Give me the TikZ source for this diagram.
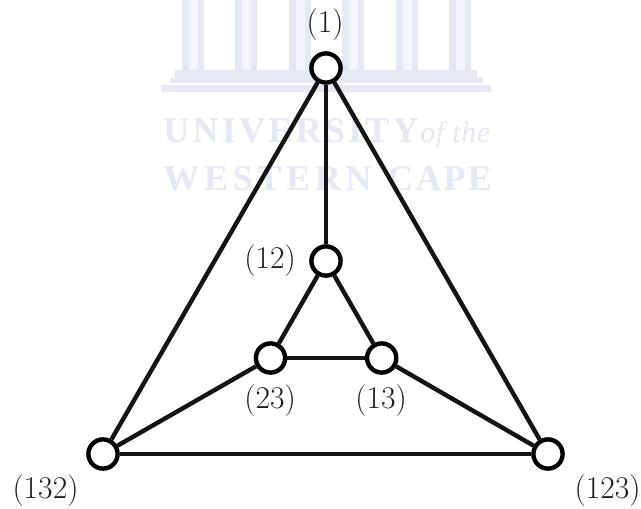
\documentclass[tikz,border=0pt]{standalone}
\usepackage{fontspec}
\newfontfamily\wmfont{Liberation Serif}
\definecolor{wm}{RGB}{230,232,243}
\tikzset{
  vert/.style={circle,draw=black,fill=white,line width=2.2pt,minimum size=14.6pt,inner sep=0pt},
  edge/.style={line width=2.2pt,draw=black!92},
  lab/.style={font=\fontsize{15.8}{18}\selectfont,inner sep=0pt,text=black!88},
  wmtext/.style={font=\wmfont\bfseries\fontsize{18}{20}\selectfont,text=wm,inner sep=0pt,anchor=base west},
}
\begin{document}
\begin{tikzpicture}[x=0.5pt,y=-0.5pt]
\useasboundingbox (0,0) rectangle (641,508);
\fill[white] (0,0) rectangle (641,508);
% watermark
\foreach \g in {182,235,289,342,396,449}{
  \fill[wm] (\g,0) rectangle ++(7,70);
  \fill[wm!45] (\g+7,0) rectangle ++(9,70);
  \fill[wm] (\g+16,0) rectangle ++(6,70);
}
\fill[wm] (175,70) rectangle (477,78);
\fill[wm] (170,78) rectangle (483,83);
\fill[wm] (161,85) rectangle (491,92);
\node[wmtext] at (163,142) {\addfontfeature{LetterSpace=9}UNIVERSITY};
\node[wmtext,font=\wmfont\itshape\fontsize{15}{17}\selectfont] at (420,142) {\addfontfeature{LetterSpace=2}of the};
\node[wmtext] at (163,190) {\addfontfeature{LetterSpace=13}WESTERN};
\node[wmtext] at (387,190) {\addfontfeature{LetterSpace=6}CAPE};
% graph
\node[vert] (a) at (326,68) {};
\node[vert] (b) at (326,261) {};
\node[vert] (c) at (270.5,358) {};
\node[vert] (d) at (381.7,358) {};
\node[vert] (e) at (103,454) {};
\node[vert] (f) at (548,454) {};
\draw[edge] (a)--(b);
\draw[edge] (a)--(e);
\draw[edge] (a)--(f);
\draw[edge] (b)--(c);
\draw[edge] (b)--(d);
\draw[edge] (c)--(d);
\draw[edge] (c)--(e);
\draw[edge] (d)--(f);
\draw[edge] (e)--(f);
\node[lab] (la) at (325,25) {(1)};
\node[lab] (lb) at (270,261) {(12)};
\node[lab] (lc) at (270,401) {(23)};
\node[lab] (ld) at (381,401) {(13)};
\node[lab] (le) at (45.5,491) {(132)};
\node[lab] (lf) at (607.5,491) {(123)};
\end{tikzpicture}
\end{document}
